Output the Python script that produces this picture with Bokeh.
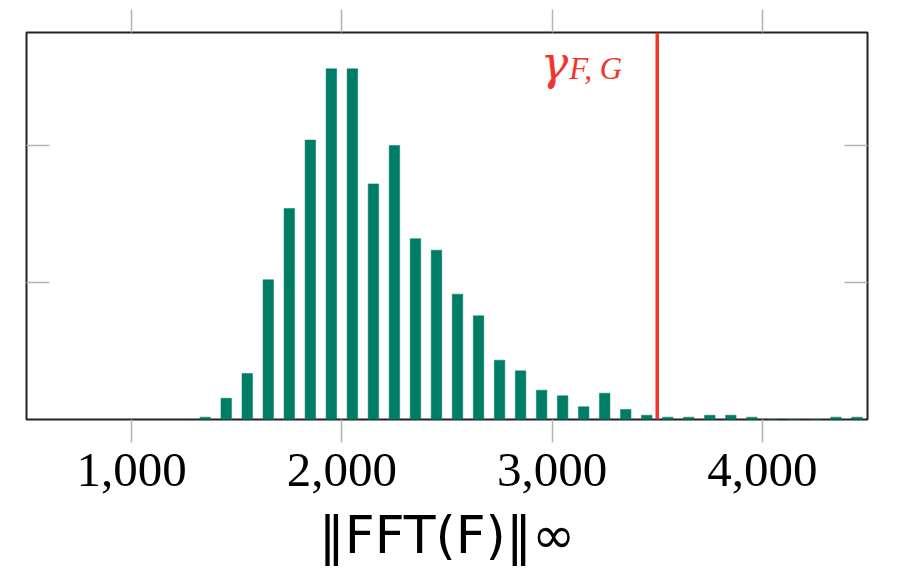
from bokeh.plotting import figure
from bokeh.models import (Range1d, FixedTicker, NumeralTickFormatter, LinearAxis,
                          Span, Label)
from bokeh.embed import file_html
from bokeh.resources import INLINE

# histogram of ||FFT(F)||_inf, bins of width 100 (centres), bar heights
bin_centers = [1350, 1450, 1550, 1650, 1750, 1850, 1950, 2050, 2150, 2250,
               2350, 2450, 2550, 2650, 2750, 2850, 2950, 3050, 3150, 3250,
               3350, 3450, 3550, 3650, 3750, 3850, 3950, 4050, 4150, 4250,
               4350, 4450]
counts = [1.7, 15.5, 33.6, 102, 154, 204, 256, 256, 172, 200,
          132, 123.6, 91.5, 75.7, 43.3, 35.5, 21.4, 17.3, 9.3, 19.2,
          7.3, 3.1, 1.7, 1.7, 3.1, 3.1, 1.7, 0, 0, 0,
          1.7, 1.7]
gamma_x = 3500
x_ticks = [1000, 2000, 3000, 4000]
y_ticks = [100, 200]

bar_color = "#007d66"
red = "#f2352b"
tick_color = "#b4b4b4"

p = figure(width=892, height=572, output_backend="svg", toolbar_location=None,
           x_range=Range1d(500, 4500), y_range=Range1d(0, 282.5),
           min_border_left=26, min_border_right=25, min_border_top=32,
           min_border_bottom=153)
p.grid.visible = False
p.background_fill_color = "white"
p.border_fill_color = "white"
p.outline_line_color = "#222222"
p.outline_line_width = 2

p.vbar(x=bin_centers, top=counts, width=50, bottom=0,
       fill_color=bar_color, line_color=bar_color, line_width=0.5)

p.add_layout(Span(location=gamma_x, dimension="height", line_color=red, line_width=3.5))

# threshold label gamma_{F,G}
p.add_layout(Label(x=gamma_x, y=260, x_offset=-89, text="γ", text_align="right",
                   text_baseline="alphabetic", text_color=red,
                   text_font="DejaVu Serif", text_font_style="italic",
                   text_font_size="46px"))
p.add_layout(Label(x=gamma_x, y=256, x_offset=-88, text="F, G", text_align="left",
                   text_baseline="alphabetic", text_color=red,
                   text_font="Liberation Serif", text_font_style="italic",
                   text_font_size="31px"))

# bottom axis with labels
xa = p.xaxis[0]
xa.ticker = FixedTicker(ticks=x_ticks)
xa.formatter = NumeralTickFormatter(format="0,0")
xa.major_tick_out = 23
xa.major_tick_in = 0
xa.minor_tick_line_color = None
xa.major_tick_line_color = tick_color
xa.major_tick_line_width = 1.5
xa.axis_line_color = None
xa.major_label_standoff = 11
xa.major_label_text_font = "Liberation Serif"
xa.major_label_text_font_size = "49px"
xa.major_label_text_color = "black"
xa.axis_label = "‖FFT(F)‖∞"
xa.axis_label_text_font = "DejaVu Sans"
xa.axis_label_text_font_style = "normal"
xa.axis_label_text_font_size = "52px"
xa.axis_label_standoff = 16
xa.axis_label_text_color = "black"

# top axis: ticks only
xt = LinearAxis(ticker=FixedTicker(ticks=x_ticks), major_tick_out=23, major_tick_in=0,
                minor_tick_line_color=None, major_tick_line_color=tick_color,
                major_tick_line_width=1.5, axis_line_color=None,
                major_label_overrides={t: "" for t in x_ticks},
                major_label_text_font_size="1px")
p.add_layout(xt, "above")

# left / right axes: inward ticks only
ya = p.yaxis[0]
ya.ticker = FixedTicker(ticks=y_ticks)
ya.major_tick_in = 23
ya.major_tick_out = 0
ya.minor_tick_line_color = None
ya.major_tick_line_color = tick_color
ya.major_tick_line_width = 1.5
ya.axis_line_color = None
ya.major_label_overrides = {t: "" for t in y_ticks}
ya.major_label_text_font_size = "1px"

yr = LinearAxis(ticker=FixedTicker(ticks=y_ticks), major_tick_in=23, major_tick_out=0,
                minor_tick_line_color=None, major_tick_line_color=tick_color,
                major_tick_line_width=1.5, axis_line_color=None,
                major_label_overrides={t: "" for t in y_ticks},
                major_label_text_font_size="1px")
p.add_layout(yr, "right")

open("out.html", "w").write(file_html(p, INLINE))
